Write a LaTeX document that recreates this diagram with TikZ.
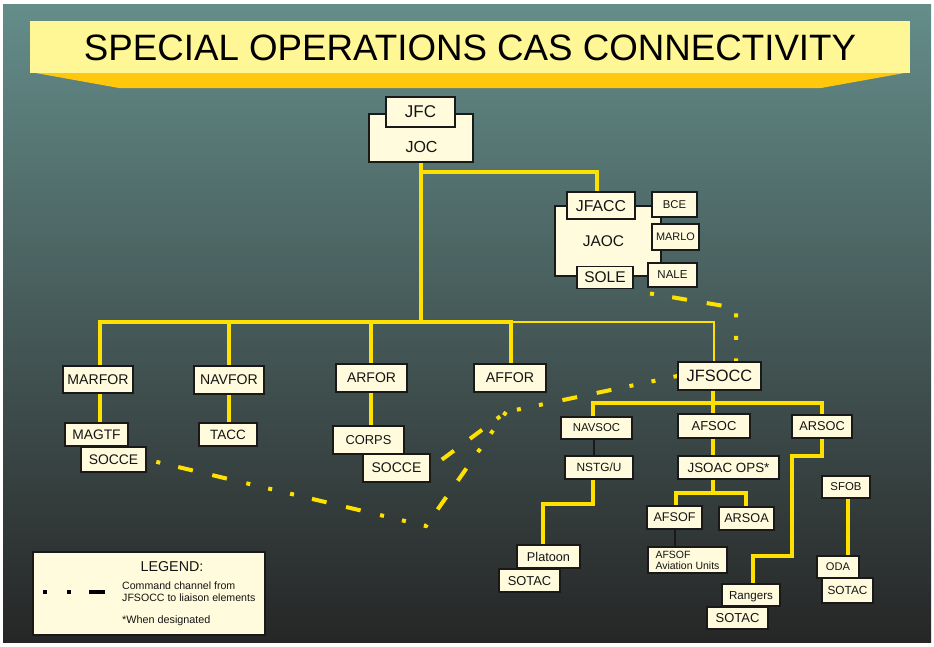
\documentclass[tikz,border=0pt]{standalone}
\usepackage{fontspec}
\setmainfont{Liberation Sans}
\usetikzlibrary{calc}
\definecolor{cream}{RGB}{255,251,220}
\definecolor{ylw}{RGB}{255,225,0}
\definecolor{txt}{RGB}{20,20,20}
\definecolor{bord}{RGB}{25,25,25}
\definecolor{ttlight}{RGB}{255,246,150}
\definecolor{ttgold}{RGB}{255,200,12}
\definecolor{bgtop}{RGB}{100,141,138}
\definecolor{bgmid}{RGB}{76,94,95}
\definecolor{bgbot}{RGB}{38,38,38}
\pgfdeclarelayer{bgzero}
\pgfdeclarelayer{lines}
\pgfsetlayers{bgzero,lines,main}
\tikzset{
  fs/.style={font=\fontsize{#1}{#1}\selectfont},
  bx/.style={draw=bord, line width=1.2pt, fill=cream, inner sep=0pt, text=txt, text depth=0pt},
  yl/.style={draw=ylw, line width=4pt, line cap=rect},
  ylthin/.style={draw=ylw, line width=2.5pt, line cap=rect},
  blk/.style={draw=bord, line width=1.2pt},
  liaison/.style={draw=ylw, line width=4pt, dash pattern=on 15pt off 20pt on 15pt off 20pt on 4pt off 18.5pt on 4pt off 18.5pt on 4pt off 18.5pt},
  lbl/.style={inner sep=0pt, text=txt, text depth=0pt}
}
\begin{document}
\begin{tikzpicture}[x=1pt,y=-1pt]
\useasboundingbox (0,0) rectangle (934,646);
\begin{pgfonlayer}{bgzero}
\fill[white] (0,0) rectangle (934,646);
\shade[top color=bgtop, middle color=bgmid, bottom color=bgbot] (3,4) rectangle (931,642);
\fill[ttgold] (30,72) -- (910,72) -- (821,88) -- (119,88) -- cycle;
\fill[ttlight] (30,21) rectangle (910,73);
\end{pgfonlayer}
\node[lbl, font=\fontsize{36.7}{40}\selectfont, text=black] (title) at (470,47.5) {SPECIAL OPERATIONS CAS CONNECTIVITY};

% top
\node[bx, minimum width=104pt, minimum height=48pt] (joc) at (421,138) {};
\node[lbl, fs=16] (joct) at (421.5,147) {JOC};
\node[bx, fs=17, minimum width=69pt, minimum height=30pt] (jfc) at (420.5,112) {JFC};

% JAOC group
\node[bx, minimum width=106pt, minimum height=70pt] (jaoc) at (608,241) {};
\node[lbl, fs=15.5] (jaoct) at (603.5,241) {JAOC};
\node[bx, fs=15.8, minimum width=68pt, minimum height=27pt] (jfacc) at (601,205.5) {JFACC};
\node[bx, fs=11.3, minimum width=45pt, minimum height=25pt] (bce) at (674.5,204.5) {BCE};
\node[bx, fs=10.9, minimum width=47pt, minimum height=26pt] (marlo) at (675.5,237) {MARLO};
\node[bx, fs=11.5, minimum width=49pt, minimum height=24pt] (nale) at (672.5,275) {NALE};
\node[bx, fs=15.5, minimum width=56pt, minimum height=22pt] (sole) at (605,277.5) {SOLE};

% level 2
\node[bx, fs=14.1, minimum width=70pt, minimum height=27pt] (marfor) at (98,379.5) {MARFOR};
\node[bx, fs=14.1, minimum width=70pt, minimum height=28pt] (navfor) at (229,380) {NAVFOR};
\node[bx, fs=14, minimum width=71pt, minimum height=28pt] (arfor) at (371.5,378) {ARFOR};
\node[bx, fs=14.2, minimum width=72pt, minimum height=28pt] (affor) at (510,378) {AFFOR};
\node[bx, fs=16.4, minimum width=83pt, minimum height=28pt] (jfsocc) at (719.5,376) {JFSOCC};

\node[bx, fs=13.8, minimum width=63pt, minimum height=23pt] (magtf) at (96.5,434.5) {MAGTF};
\node[bx, fs=13.9, minimum width=65pt, minimum height=25pt] (soccel) at (113.5,459.5) {SOCCE};
\node[bx, fs=13.5, minimum width=58pt, minimum height=23pt] (tacc) at (228,434.5) {TACC};
\node[bx, fs=12.9, minimum width=71pt, minimum height=28pt] (corps) at (368.5,440) {CORPS};
\node[bx, fs=14, minimum width=67pt, minimum height=28pt] (soccem) at (396.5,468) {SOCCE};

% JFSOCC subtree
\node[bx, fs=11.4, minimum width=71pt, minimum height=22pt] (navsoc) at (596.5,428) {NAVSOC};
\node[bx, fs=13, minimum width=72pt, minimum height=24pt] (afsoc) at (714,426) {AFSOC};
\node[bx, fs=12.8, minimum width=60pt, minimum height=23pt] (arsoc) at (822,426.5) {ARSOC};
\node[bx, fs=11.9, minimum width=68pt, minimum height=23pt] (nstg) at (599,467.5) {NSTG/U};
\node[bx, fs=13.4, minimum width=101pt, minimum height=23pt] (jsoac) at (728.5,467.5) {JSOAC OPS*};
\node[bx, fs=12.6, minimum width=55pt, minimum height=23pt] (afsof) at (674.5,517.5) {AFSOF};
\node[bx, fs=12.7, minimum width=55pt, minimum height=23pt] (arsoa) at (746.5,518.5) {ARSOA};
\node[draw=bord, line width=1.2pt, fill=cream, text=txt, font=\fontsize{10.5}{11}\selectfont, align=left, inner sep=0pt, minimum width=79pt, minimum height=26pt] (avu) at (687.5,560) {AFSOF\\Aviation Units};
\node[bx, fs=12.7, minimum width=63pt, minimum height=23pt] (platoon) at (548.5,556.5) {Platoon};
\node[bx, fs=12.9, minimum width=61pt, minimum height=23pt] (sotacp) at (529.5,580.5) {SOTAC};
\node[bx, fs=11.6, minimum width=58pt, minimum height=22pt] (rangers) at (751,595) {Rangers};
\node[bx, fs=13, minimum width=61pt, minimum height=22pt] (sotacr) at (737.5,618) {SOTAC};
\node[bx, fs=11.4, minimum width=48pt, minimum height=22pt] (sfob) at (846,487) {SFOB};
\node[bx, fs=11.1, minimum width=42pt, minimum height=22pt] (oda) at (838,567) {ODA};
\node[bx, fs=11.8, minimum width=51pt, minimum height=25pt] (sotaco) at (847.5,590.5) {SOTAC};

% legend
\node[bx, minimum width=232pt, minimum height=83pt] (legend) at (149,593.5) {};
\node[lbl, fs=14.3] (legt) at (172,566) {LEGEND:};
\node[lbl, font=\fontsize{10.6}{12}\selectfont, align=left, anchor=west] (legtxt) at (122,592) {Command channel from\\JFSOCC to liaison elements};
\node[lbl, fs=10.8, anchor=west] (legnote) at (122,620) {*When designated};
\fill[black] (43,589.5) rectangle (47,594);
\fill[black] (67,589.5) rectangle (71,594);
\fill[black] (89,589.5) rectangle (105,594);

% connectors
\coordinate (bL) at (100,322);
\coordinate (bN) at (229,322);
\coordinate (bJ) at (421,322);
\coordinate (bAr) at (371,322);
\coordinate (bA) at (511,322);
\coordinate (bR) at (714,322);
\coordinate (j1) at (421,172);
\coordinate (j2) at (597,172);
\coordinate (s1) at (593,403);
\coordinate (s2) at (713,403);
\coordinate (s3) at (822,403);
\coordinate (n1) at (594,0);
\coordinate (t1) at (676,493);
\coordinate (t2) at (713,493);
\coordinate (t3) at (746,493);
\coordinate (a1) at (675,0);
\coordinate (p1) at (593,504);
\coordinate (p2) at (543,504);
\coordinate (r1) at (822,456);
\coordinate (r2) at (792,456);
\coordinate (r3) at (792,556);
\coordinate (r4) at (753,556);
\coordinate (o1) at (848,0);
\coordinate (la) at (650,293.5);
\coordinate (lb) at (736,308);
\coordinate (lj) at (506,412);
\coordinate (lk) at (426,526);

\begin{pgfonlayer}{lines}
\draw[yl] (joc.south -| bJ) -- (bJ);
\draw[yl] (j1) -- (j2) -- (jfacc.north -| j2);
\draw[yl] (marfor.north -| bL) -- (bL) -- (bA);
\draw[ylthin] (bA) -- (bR) -- (jfsocc.north -| bR);
\draw[yl] (bN) -- (navfor.north -| bN);
\draw[yl] (bAr) -- (arfor.north -| bAr);
\draw[yl] (bA) -- (affor.north -| bA);
\draw[yl] (marfor.south -| bL) -- (magtf.north -| bL);
\draw[yl] (navfor.south -| bN) -- (tacc.north -| bN);
\draw[yl] (arfor.south -| bAr) -- (corps.north -| bAr);
\draw[yl] (jfsocc.south -| s2) -- (s2);
\draw[yl] (navsoc.north -| s1) -- (s1) -- (s3) -- (arsoc.north -| s3);
\draw[yl] (s2) -- (afsoc.north -| s2);
\draw[blk] (navsoc.south -| n1) -- (nstg.north -| n1);
\draw[yl] (afsoc.south -| s2) -- (jsoac.north -| s2);
\draw[yl] (jsoac.south -| t2) -- (t2);
\draw[yl] (afsof.north -| t1) -- (t1) -- (t3) -- (arsoa.north -| t3);
\draw[blk] (afsof.south -| a1) -- (avu.north -| a1);
\draw[yl] (nstg.south -| p1) -- (p1) -- (p2) -- (platoon.north -| p2);
\draw[yl] (arsoc.south -| r1) -- (r1) -- (r2) -- (r3) -- (r4) -- (rangers.north -| r4);
\draw[yl] (sfob.south -| o1) -- (oda.north -| o1);
% liaison channels
\draw[liaison, dash phase=115pt] (la) -- (lb) -- (jfsocc.north -| lb);
\draw[liaison, dash phase=70pt] (jfsocc.west) -- (lj) -- (soccem.east);
\draw[liaison, dash phase=105pt] (soccel.east) -- (lk) -- (lj);
\end{pgfonlayer}
\end{tikzpicture}
\end{document}
